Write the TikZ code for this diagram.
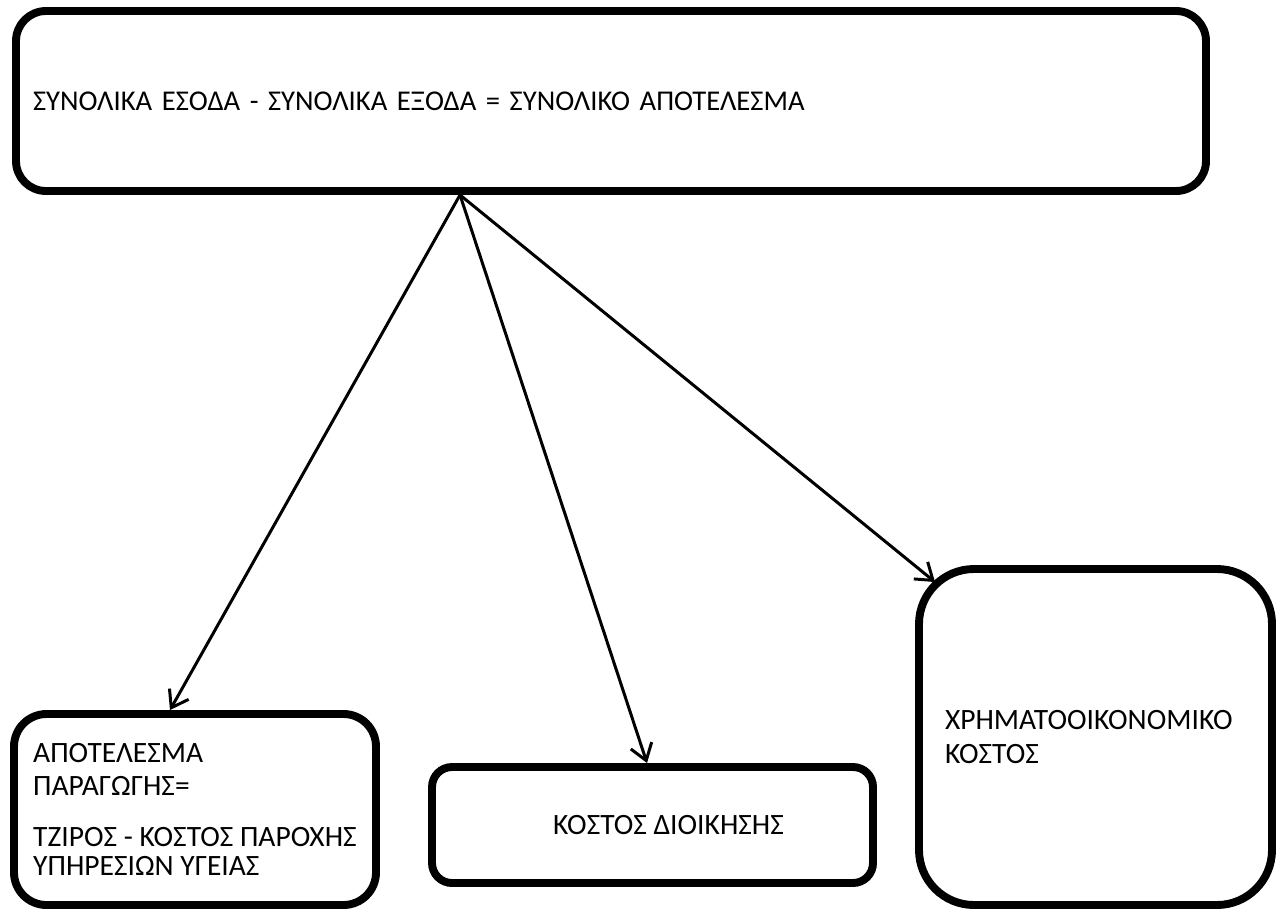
\documentclass[tikz,border=0pt]{standalone}
\usepackage{fontspec}
\setmainfont{Carlito}
\usetikzlibrary{arrows.meta,shadows}

\tikzset{
  box/.style={draw, line width=4.5pt, fill=white,
    font=\fontsize{16.8pt}{18.9pt}\selectfont,
    drop shadow={shadow xshift=0.6pt, shadow yshift=-1.2pt, opacity=0.25}},
  arr/.style={line width=1.7pt, -{Straight Barb[length=9pt, width=12.5pt]}}
}

\begin{document}
\begin{tikzpicture}
\useasboundingbox (0,0) rectangle (25.52,-18.18);
\clip (0,0) rectangle (25.52,-18.18);
\node[box, font=\fontsize{16.3pt}{18.9pt}\selectfont, rounded corners=0.6cm, minimum width=23.8cm, minimum height=3.6cm, inner xsep=0.34cm, text width=23.12cm, align=left] (sum) at (12.22,-2.02) {ΣΥΝΟΛΙΚΑ ΕΣΟΔΑ - ΣΥΝΟΛΙΚΑ ΕΞΟΔΑ = ΣΥΝΟΛΙΚΟ ΑΠΟΤΕΛΕΣΜΑ};
\node[box, rounded corners=0.65cm, minimum width=7.24cm, minimum height=3.82cm, align=left] (prod) at (3.9,-16.19) {ΑΠΟΤΕΛΕΣΜΑ\\ΠΑΡΑΓΩΓΗΣ=\\[10pt]ΤΖΙΡΟΣ - ΚΟΣΤΟΣ ΠΑΡΟΧΗΣ\\[-2.5pt]ΥΠΗΡΕΣΙΩΝ ΥΓΕΙΑΣ};
\node[box, rounded corners=0.4cm, minimum width=8.82cm, minimum height=2.32cm] (cost) at (13.05,-16.5) {\hspace*{0.64cm}ΚΟΣΤΟΣ ΔΙΟΙΚΗΣΗΣ};
\node[box, rounded corners=1.1cm, minimum width=7.06cm, minimum height=6.72cm, inner xsep=0.52cm, text width=6.02cm, align=left] (fin) at (21.91,-14.74) {ΧΡΗΜΑΤΟΟΙΚΟΝΟΜΙΚΟ\\ΚΟΣΤΟΣ};
\draw[arr] ([xshift=-3.02cm]sum.south) -- ([xshift=-0.5cm]prod.north);
\draw[arr] ([xshift=-3.02cm]sum.south) -- ([xshift=-0.11cm]cost.north);
\draw[arr] ([xshift=-3.02cm]sum.south) -- ([shift={(0.4,-0.34)}]fin.north west);
\end{tikzpicture}
\end{document}
